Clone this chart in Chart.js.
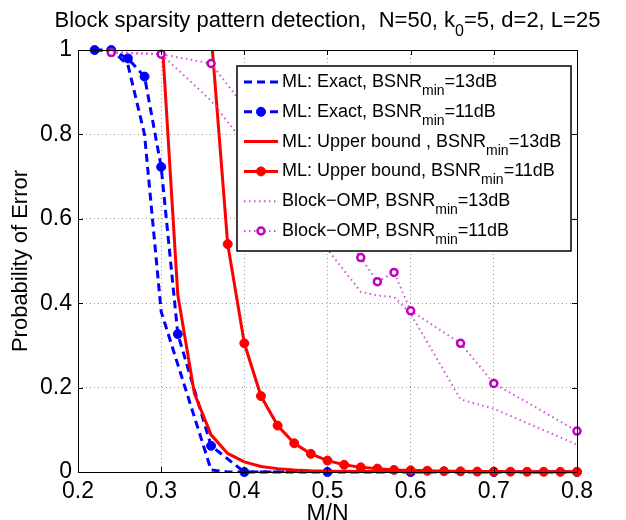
<!DOCTYPE html>
<html>
<head>
<meta charset="utf-8">
<script src="https://cdn.jsdelivr.net/npm/chart.js@4.4.0/dist/chart.umd.min.js"></script>
<style>
html, body { margin: 0; padding: 0; background: #fff; }
</style>
</head>
<body>
<canvas id="peChart" width="626" height="520"></canvas>
<script>
// M/N grid and error probabilities
var xExact13 = [0.22, 0.24, 0.26, 0.28, 0.30, 0.32, 0.34, 0.36, 0.38, 0.40, 0.50, 0.60, 0.70, 0.80];
var pExact13 = [1, 1, 0.965, 0.80, 0.38, 0.255, 0.13, 0.005, 0, 0, 0, 0, 0, 0];

var xExact11 = [0.22, 0.24, 0.26, 0.28, 0.30, 0.32, 0.36, 0.40, 0.50, 0.60, 0.70, 0.80];
var pExact11 = [1, 1, 0.98, 0.937, 0.723, 0.327, 0.062, 0, 0, 0, 0, 0];

var xBound13 = [0.30, 0.32, 0.34, 0.36, 0.38, 0.40, 0.42, 0.44, 0.46, 0.48, 0.50, 0.55, 0.60, 0.70, 0.80];
var pBound13 = [1.06, 0.42, 0.186, 0.088, 0.044, 0.024, 0.013, 0.008, 0.005, 0.003, 0.002, 0.001, 0.0005, 0.0002, 0.0001];

var xBound11 = [0.36, 0.38, 0.40, 0.42, 0.44, 0.46, 0.48, 0.50, 0.52, 0.54, 0.56, 0.58, 0.60,
                0.62, 0.64, 0.66, 0.68, 0.70, 0.72, 0.74, 0.76, 0.78, 0.80];
var pBound11 = [1.04, 0.54, 0.305, 0.18, 0.11, 0.068, 0.043, 0.027, 0.017, 0.011, 0.008, 0.005, 0.004,
                0.003, 0.002, 0.0015, 0.001, 0.001, 0.0008, 0.0006, 0.0005, 0.0004, 0.0003];

var xOmp = [0.24, 0.30, 0.36, 0.54, 0.56, 0.58, 0.60, 0.66, 0.70, 0.80];
var pOmp13 = [0.995, 0.99, 0.88, 0.427, 0.418, 0.415, 0.375, 0.172, 0.15, 0.065];
var pOmp11 = [0.994, 0.99, 0.968, 0.508, 0.451, 0.473, 0.382, 0.305, 0.21, 0.097];

var xTicks = [0.2, 0.3, 0.4, 0.5, 0.6, 0.7, 0.8];
var yTicks = [0, 0.2, 0.4, 0.6, 0.8, 1];

// legend text: [before subscript, subscript, after]
var seriesLabels = [
    ['ML: Exact, BSNR', 'min', '=13dB'],
    ['ML: Exact, BSNR', 'min', '=11dB'],
    ['ML: Upper bound , BSNR', 'min', '=13dB'],
    ['ML: Upper bound, BSNR', 'min', '=11dB'],
    ['Block\u2212OMP, BSNR', 'min', '=13dB'],
    ['Block\u2212OMP, BSNR', 'min', '=11dB']
];
var titleParts = ['Block sparsity pattern detection,  N=50, k', '0', '=5, d=2, L=25'];

var FONT = "'Liberation Sans', Arial, Helvetica, sans-serif";
Chart.defaults.font.family = FONT;
Chart.defaults.color = '#000';

function pts(xs, ys) {
    return xs.map(function(x, i) { return {x: x, y: ys[i]}; });
}

function fmt(v) {
    if (Math.abs(v) < 1e-9) return '0';
    if (Math.abs(v - 1) < 1e-9) return '1';
    return v.toFixed(1);
}

var BLUE = '#0000ff', RED = '#ff0000', MAG = '#c000c0', MAGLINE = 'rgb(215,80,215)';

function drawSubText(ctx, parts, x, y, size, subSize, align) {
    ctx.font = size + 'px ' + FONT;
    var w0 = ctx.measureText(parts[0]).width;
    var w2 = ctx.measureText(parts[2]).width;
    ctx.font = subSize + 'px ' + FONT;
    var w1 = ctx.measureText(parts[1]).width;
    var start = align === 'center' ? x - (w0 + w1 + w2) / 2 : x;
    ctx.textAlign = 'left';
    ctx.textBaseline = 'alphabetic';
    ctx.fillStyle = '#000';
    ctx.font = size + 'px ' + FONT;
    ctx.fillText(parts[0], start, y);
    ctx.font = subSize + 'px ' + FONT;
    ctx.fillText(parts[1], start + w0, y + Math.round(size * 0.42));
    ctx.font = size + 'px ' + FONT;
    ctx.fillText(parts[2], start + w0 + w1, y);
}

var framePlugin = {
    id: 'frame',
    afterDraw: function(chart) {
        var ctx = chart.ctx, ca = chart.chartArea;
        var xs = chart.scales.x, ys = chart.scales.y;
        ctx.save();

        // axes box with inward ticks
        ctx.strokeStyle = '#000';
        ctx.lineWidth = 1;
        ctx.setLineDash([]);
        ctx.strokeRect(Math.round(ca.left) + 0.5, Math.round(ca.top) + 0.5,
                       Math.round(ca.right - ca.left), Math.round(ca.bottom - ca.top));
        ctx.beginPath();
        xTicks.forEach(function(t) {
            var px = Math.round(xs.getPixelForValue(t)) + 0.5;
            ctx.moveTo(px, ca.bottom); ctx.lineTo(px, ca.bottom - 5);
            ctx.moveTo(px, ca.top); ctx.lineTo(px, ca.top + 5);
        });
        yTicks.forEach(function(t) {
            var py = Math.round(ys.getPixelForValue(t)) + 0.5;
            ctx.moveTo(ca.left, py); ctx.lineTo(ca.left + 5, py);
            ctx.moveTo(ca.right, py); ctx.lineTo(ca.right - 5, py);
        });
        ctx.stroke();

        // title
        drawSubText(ctx, titleParts, (ca.left + ca.right) / 2, 27, 22, 16, 'center');

        // legend
        var bx = ca.right - 340, by = ca.top + 16, bw = 334, bh = 185;
        ctx.fillStyle = '#fff';
        ctx.fillRect(bx, by, bw, bh);
        ctx.lineWidth = 1.5;
        ctx.strokeStyle = '#000';
        ctx.strokeRect(bx, by, bw, bh);
        chart.data.datasets.forEach(function(ds, i) {
            var ry = by + 16 + i * 29.8;
            ctx.save();
            ctx.strokeStyle = ds.borderColor;
            ctx.lineWidth = ds.borderWidth;
            ctx.setLineDash(ds.borderDash || []);
            ctx.beginPath();
            ctx.moveTo(bx + 7, ry);
            ctx.lineTo(bx + 41, ry);
            ctx.stroke();
            if (ds.pointRadius > 0) {
                ctx.setLineDash([]);
                ctx.beginPath();
                ctx.arc(bx + 24, ry, ds.pointRadius, 0, Math.PI * 2);
                ctx.fillStyle = ds.pointBackgroundColor;
                ctx.fill();
                ctx.lineWidth = ds.pointBorderWidth;
                ctx.strokeStyle = ds.pointBorderColor;
                ctx.stroke();
            }
            ctx.restore();
            drawSubText(ctx, seriesLabels[i], bx + 45, ry + 5, 18, 14, 'left');
        });
        ctx.restore();
    }
};

var ctx = document.getElementById('peChart').getContext('2d');
var peChart = new Chart(ctx, {
    type: 'line',
    data: {
        datasets: [{
            label: seriesLabels[0].join(''),
            data: pts(xExact13, pExact13),
            borderColor: BLUE, borderWidth: 3, borderDash: [8, 5],
            pointRadius: 0, order: 6, clip: 0
        }, {
            label: seriesLabels[1].join(''),
            data: pts(xExact11, pExact11),
            borderColor: BLUE, borderWidth: 3, borderDash: [8, 5],
            pointRadius: 4.5, pointBackgroundColor: BLUE, pointBorderColor: BLUE, pointBorderWidth: 1,
            order: 5, clip: 6
        }, {
            label: seriesLabels[2].join(''),
            data: pts(xBound13, pBound13),
            borderColor: RED, borderWidth: 3,
            pointRadius: 0, order: 4, clip: 0
        }, {
            label: seriesLabels[3].join(''),
            data: pts(xBound11, pBound11),
            borderColor: RED, borderWidth: 3,
            pointRadius: 4.5, pointBackgroundColor: RED, pointBorderColor: RED, pointBorderWidth: 1,
            order: 3, clip: {left: 6, top: 0, right: 6, bottom: 6}
        }, {
            label: seriesLabels[4].join(''),
            data: pts(xOmp, pOmp13),
            borderColor: MAGLINE, borderWidth: 2, borderDash: [1.5, 3.5],
            pointRadius: 0, order: 2, clip: 0
        }, {
            label: seriesLabels[5].join(''),
            data: pts(xOmp, pOmp11),
            borderColor: MAGLINE, borderWidth: 2, borderDash: [1.5, 3.5],
            pointRadius: 3.5, pointBackgroundColor: '#fff', pointBorderColor: MAG, pointBorderWidth: 2.5,
            order: 1, clip: 6
        }]
    },
    options: {
        responsive: false,
        animation: false,
        events: [],
        layout: { padding: { top: 50, right: 49, left: 0, bottom: 0 } },
        elements: { line: { tension: 0 } },
        plugins: {
            legend: { display: false },
            title: { display: false },
            tooltip: { enabled: false }
        },
        scales: {
            x: {
                type: 'linear', min: 0.2, max: 0.8,
                afterBuildTicks: function(s) { s.ticks = xTicks.map(function(v) { return {value: v}; }); },
                ticks: { font: { size: 23 }, color: '#000', padding: 6, maxRotation: 0, autoSkip: false,
                         callback: function(v) { return fmt(v); } },
                grid: { color: '#9a9a9a', lineWidth: 1, drawTicks: false },
                border: { display: false, dash: [1, 3] },
                title: { display: true, text: 'M/N', font: { size: 23 }, color: '#000', padding: { top: 0, bottom: -8 } },
                afterFit: function(s) { s.height = 48; }
            },
            y: {
                type: 'linear', min: 0, max: 1,
                afterBuildTicks: function(s) { s.ticks = yTicks.map(function(v) { return {value: v}; }); },
                ticks: { font: { size: 23 }, color: '#000', padding: 6, autoSkip: false,
                         callback: function(v) { return fmt(v); } },
                grid: { color: '#9a9a9a', lineWidth: 1, drawTicks: false },
                border: { display: false, dash: [1, 3] },
                title: { display: true, text: 'Probability of Error', font: { size: 22 }, color: '#000',
                         padding: { top: 8, bottom: 0 } },
                afterFit: function(s) { s.width = 78; }
            }
        }
    },
    plugins: [framePlugin]
});
</script>
</body>
</html>
